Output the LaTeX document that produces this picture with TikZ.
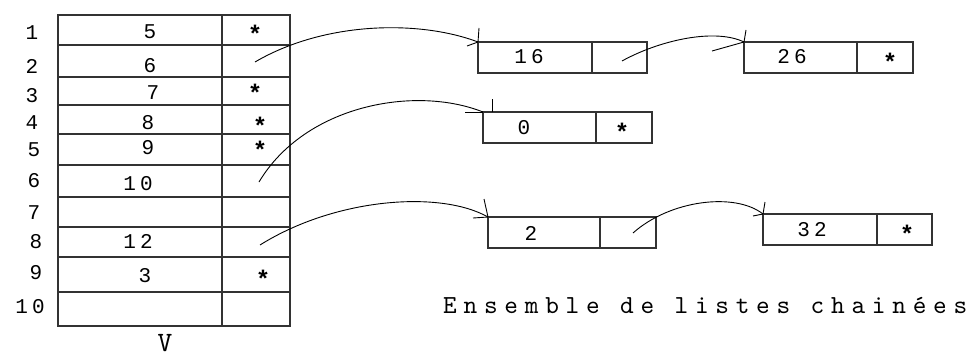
\documentclass[tikz,border=0pt]{standalone}
\usepackage{fontspec}
\newfontfamily\digfont[LetterSpace=20]{Liberation Mono}
\newfontfamily\starfont{Liberation Mono}
\newfontfamily\capfont[LetterSpace=26]{lmmono10-regular.otf}
\newfontfamily\vfont{lmmono10-regular.otf}
\begin{document}
\begin{tikzpicture}[x=1pt,y=-1pt,
  grid/.style={draw=black!80, line width=1.4pt},
  cell/.style={grid, inner sep=0pt, outer sep=0pt, anchor=north west},
  link/.style={line width=0.9pt, draw=black},
  num/.style={font=\digfont\fontsize{21}{21}\selectfont, inner sep=0pt},
  star/.style={font=\starfont\bfseries\fontsize{24}{24}\selectfont, inner sep=0pt},
  capt/.style={font=\capfont\fontsize{26}{26}\selectfont, inner sep=0pt}]
\useasboundingbox (0,0) rectangle (977,356);
% table V
\foreach \i/\t/\b in {1/15/45,2/45/77,3/77/105,4/105/134,5/134/165,6/165/197,7/197/227,8/227/257,9/257/292,10/292/326}{
  \node[cell, minimum width=164pt, minimum height={\b pt-\t pt}] (v\i) at (58,\t) {};
  \node[cell, minimum width=68pt, minimum height={\b pt-\t pt}] (p\i) at (222,\t) {};
}
% row numbers
\foreach \i/\x/\y in {1/32/33,2/32/66,3/32/96,4/32/123,5/34/150,6/34/181,7/34/213,8/36/242,9/36/273,10/30/307}
  \node[num] (r\i) at (\x,\y) {\i};
% values
\node[num] (x1) at (150,32) {5};
\node[num] (x2) at (150,66) {6};
\node[num] (x3) at (153,93) {7};
\node[num] (x4) at (148,123) {8};
\node[num] (x5) at (148,148) {9};
\node[num] (x6) at (138,184) {10};
\node[num] (x8) at (138,241) {12};
\node[num] (x9) at (145,276) {3};
% stars in V
\foreach \i/\x/\y in {1/255/29,3/255/88,4/260/121,5/260/145,9/263/274}
  \node[star] (s\i) at (\x,\y+5) {*};
\node[font=\vfont\fontsize{28}{28}\selectfont, inner sep=0pt] (V) at (165,343) {V};
% list boxes
\node[cell, minimum width=114pt, minimum height=31pt] (b16) at (478,42) {};
\node[cell, minimum width=55pt, minimum height=31pt] (q16) at (b16.north east) {};
\node[num] (t16) at (529,57) {16};
\node[cell, minimum width=113pt, minimum height=31pt] (b26) at (744,42) {};
\node[cell, minimum width=56pt, minimum height=31pt] (q26) at (b26.north east) {};
\node[num] (t26) at (792,57) {26};
\node[star] (s26) at (890,57+5) {*};
\node[cell, minimum width=113pt, minimum height=31pt] (b0) at (483,112) {};
\node[cell, minimum width=56pt, minimum height=31pt] (q0) at (b0.north east) {};
\node[num] (t0) at (524,128) {0};
\node[star] (s0) at (622,127+5) {*};
\node[cell, minimum width=112pt, minimum height=31pt] (b2) at (488,217) {};
\node[cell, minimum width=56pt, minimum height=31pt] (q2) at (b2.north east) {};
\node[num] (t2) at (531,233) {2};
\node[cell, minimum width=114pt, minimum height=31pt] (b32) at (763,214) {};
\node[cell, minimum width=55pt, minimum height=31pt] (q32) at (b32.north east) {};
\node[num] (t32) at (812,230) {32};
\node[star] (s32) at (907,229+5) {*};
% caption
\node[capt, anchor=base west] (cap) at (443,313) {Ensemble de listes chainées};
% link start points
\coordinate (a2) at (255,62);
\coordinate (a6) at (259,182);
\coordinate (a8) at (260,245);
\coordinate (a16) at (622,61);
\coordinate (a22) at (633,233);
% links
\draw[link] (a2) .. controls (325,21) and (420,20) .. (b16.north west);
\draw[link] ([shift={(-11,4)}]b16.north west) -- (b16.north west) -- ++(1,-14);
\draw[link] (a6) .. controls (305,105) and (415,85) .. (b0.north west);
\draw[link] ([shift={(-18,0)}]b0.north west) -- (b0.north west);
\draw[link] ([shift={(9,0)}]b0.north west) -- ++(0,-13);
\draw[link] (a8) .. controls (335,198) and (440,190) .. (b2.north west);
\draw[link] ([shift={(-15,1)}]b2.north west) -- (b2.north west) -- ++(-4,-18);
\draw[link] (a16) .. controls (660,40) and (715,28) .. (b26.north west);
\draw[link] ([shift={(-32,9)}]b26.north west) -- (b26.north west) -- ++(2,-12);
\draw[link] (a22) .. controls (670,200) and (735,192) .. (b32.north west);
\draw[link] ([shift={(-10,2)}]b32.north west) -- (b32.north west) -- ++(2,-12);
\end{tikzpicture}
\end{document}
